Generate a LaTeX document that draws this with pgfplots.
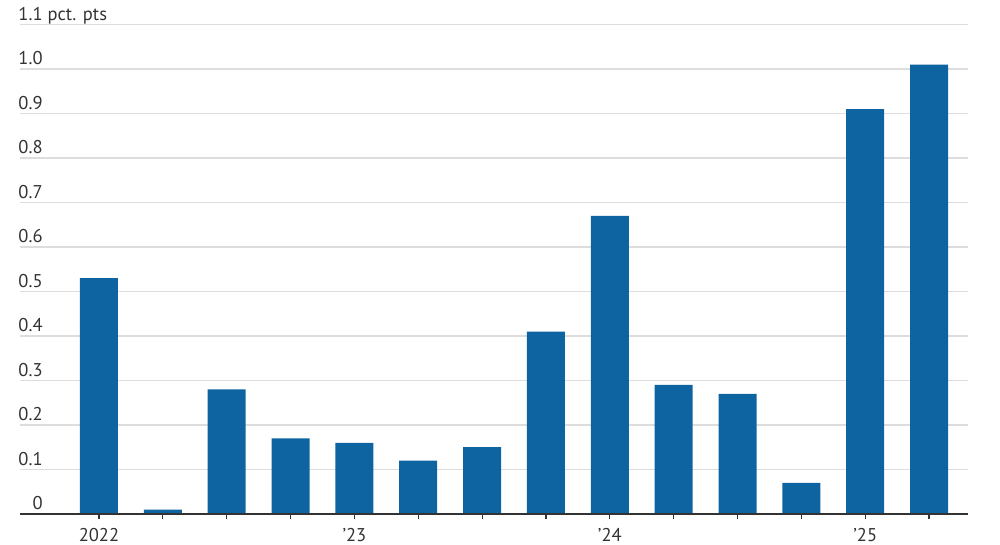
\documentclass[border=0pt]{standalone}
\usepackage{fontspec}
\setmainfont{PT Sans}
\usepackage{pgfplots}
\pgfplotsset{compat=1.18}
\definecolor{barblue}{RGB}{14,100,160}
\definecolor{txt}{RGB}{51,51,51}
\definecolor{gridc}{RGB}{221,221,221}
\begin{document}
\begin{tikzpicture}
\begin{axis}[
  at={(0,0)}, anchor=south west,
  scale only axis,
  width=474pt, height=244.75pt,
  xmin=-1.237, xmax=13.61,
  ymin=0, ymax=1.1,
  axis x line*=bottom,
  axis y line*=left,
  x axis line style={draw=none, -},
  y axis line style={draw=none, -},
  ytick={0,0.1,...,1.1},
  yticklabels={0,0.1,0.2,0.3,0.4,0.5,0.6,0.7,0.8,0.9,1.0,1.1\rlap{ pct. pts}},
  ymajorgrids,
  grid style={gridc, line width=0.75pt},
  xtick={0,...,13},
  xticklabels={2022,,,,’23,,,,’24,,,,’25,},
  xtick align=outside,
  major tick length=2.5pt,
  xtick style={draw=txt, line width=0.6pt},
  ytick style={draw=none},
  tick label style={font=\fontsize{9.25}{11}\selectfont, text=txt},
  /pgf/number format/assume math mode=true,
  yticklabel style={anchor=base east, inner sep=0pt, xshift=11.5pt, yshift=2pt},
  xticklabel style={anchor=base, inner sep=0pt, yshift=-11.5pt},
  clip=false,
]
\addplot[ybar, bar width=19pt, fill=barblue, draw=none] coordinates {
(0,0.53) (1,0.01) (2,0.28) (3,0.17) (4,0.16) (5,0.12) (6,0.15)
(7,0.41) (8,0.67) (9,0.29) (10,0.27) (11,0.07) (12,0.91) (13,1.01)
};
\draw[txt, line width=1pt] (axis cs:-1.237,0) -- (axis cs:13.61,0);
\end{axis}
\pgfresetboundingbox
\useasboundingbox (-10pt,-15.5pt) rectangle (490pt,257pt);
\end{tikzpicture}
\end{document}
